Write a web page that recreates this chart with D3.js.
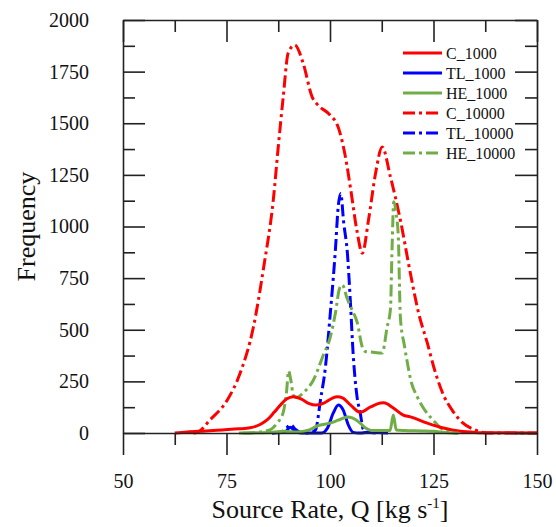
<!DOCTYPE html>
<html>
<head>
<meta charset="utf-8">
<script src="https://cdn.jsdelivr.net/npm/d3@7"></script>
<style>
  body { margin: 0; background: #fff; }
  svg, text { font-family: "Liberation Serif", "Times New Roman", serif; fill: #111; }
</style>
</head>
<body>
<div id="chart"></div>
<script>
// values, [Q, frequency]
const c1000 = [[62.5,0],[65.5,5],[70,10],[74,15],[78,20],[80.7,25],[83,40],[84.8,63],[86.5,100],[88,135],[89.5,165],[91.2,176],[93,165],[95,142],[96.5,135],[98.5,145],[100.5,168],[101.8,175],[103,170],[105,135],[107.3,100],[109.8,126],[112.2,145],[113,146],[115.3,121],[117.7,87],[119.4,78],[123.5,48],[127.4,24],[131.5,8],[135,3],[140,1],[150,0]];
const tl1000 = [[86,0],[89,3],[90.4,28],[91.5,10],[93,0],[98,0],[99.4,24],[100.8,97],[102,136],[103.2,111],[104.4,40],[105.6,3],[107,0],[110,5],[112,3],[114,0]];
const he1000 = [[78,0],[85,3],[89,8],[92,5],[95,15],[97,35],[100,48],[102,62],[104.2,78],[105.4,73],[107.3,48],[108.5,25],[110,12],[114.5,12],[115.3,87],[116,15],[118,12],[122,10],[125,8],[128,3],[131,0]];
const c10000 = [[67,0],[68,3],[71,63],[75.2,160],[78.3,290],[81.5,513],[84,805],[86.3,1128],[87.5,1385],[88.7,1627],[89.9,1840],[91.5,1879],[93.5,1792],[95.7,1627],[97,1590],[100,1540],[102,1480],[103.7,1340],[105,1180],[106.5,980],[107.8,871],[109.3,1031],[111,1257],[112.6,1385],[114.6,1240],[117,1031],[119.4,775],[121.4,581],[123.5,436],[125.5,290],[127.5,180],[129.5,111],[132,50],[135,15],[138,0],[150,0]];
const tl10000 = [[86,0],[88,3],[89.5,25],[90.5,40],[91.5,20],[93,3],[95,0],[96.5,15],[97.7,160],[98.9,320],[100,562],[101.3,886],[102,1100],[102.6,1160],[103.3,1020],[104.2,871],[104.9,644],[105.6,380],[106.5,180],[107.3,97],[108,20],[109,3],[111,0]];
const he10000 = [[79,0],[82,3],[85.5,15],[87.3,50],[88.7,100],[89.5,200],[90,300],[90.5,260],[91.2,180],[92,172],[93.5,194],[96,257],[98.4,378],[100,460],[101.3,580],[102.3,700],[103,717],[104,660],[105,610],[106.6,533],[107.8,417],[108.5,395],[110,392],[112.6,387],[113.8,513],[114.6,600],[115,900],[115.4,1120],[116,1060],[116.5,950],[117,560],[118,420],[118.7,339],[119.5,257],[121.1,174],[122.6,120],[125,60],[126.7,25],[129,3],[131,0]];

const seriesNames = ["C_1000", "TL_1000", "HE_1000", "C_10000", "TL_10000", "HE_10000"];
const seriesData = [c1000, tl1000, he1000, c10000, tl10000, he10000];
const seriesColors = ["#ff0000", "#0000ff", "#70ad47", "#ff0000", "#0000ff", "#70ad47"];
const seriesDashed = [false, false, false, true, true, true];

const xTicks = [50, 75, 100, 125, 150];
const xMinor = [62.5, 87.5, 112.5, 137.5];
const yTicks = [0, 250, 500, 750, 1000, 1250, 1500, 1750, 2000];
const yMinor = [125, 375, 625, 875, 1125, 1375, 1625, 1875];

const width = 556, height = 527;
const margin = {top: 20, right: 19, bottom: 94, left: 123};

const svg = d3.select("#chart").append("svg")
  .attr("width", width)
  .attr("height", height);

const x = d3.scaleLinear().domain([50, 150]).range([margin.left, width - margin.right]);
const y = d3.scaleLinear().domain([0, 2000]).range([height - margin.bottom, margin.top]);

const line = d3.line()
  .x(d => x(d[0]))
  .y(d => y(d[1]))
  .curve(d3.curveMonotoneX);

// curves, dash-dot first so the solid ones sit on top
const order = [3, 4, 5, 0, 1, 2];
order.forEach(i => {
  svg.append("path")
    .datum(seriesData[i])
    .attr("fill", "none")
    .attr("stroke", seriesColors[i])
    .attr("stroke-width", 3)
    .attr("stroke-linejoin", "round")
    .attr("stroke-dasharray", seriesDashed[i] ? "12,4,3,4" : null)
    .attr("d", line);
});

function styleAxis(g) {
  g.attr("font-family", "Liberation Serif").attr("font-size", 20);
  g.selectAll("path.domain").attr("stroke", "#222").attr("stroke-width", 1.6);
  g.selectAll(".tick line").attr("stroke", "#222").attr("stroke-width", 1.6);
  g.selectAll("text").attr("fill", "#111");
}

const bottom = height - margin.bottom, right = width - margin.right;
const fmt = d3.format("d");

// bottom axis, ticks pointing out
svg.append("g").attr("transform", `translate(0,${bottom})`)
  .call(d3.axisBottom(x).tickValues(xMinor).tickSize(12).tickFormat(""))
  .call(g => g.select(".domain").remove())
  .call(styleAxis);
svg.append("g").attr("transform", `translate(0,${bottom})`)
  .call(d3.axisBottom(x).tickValues(xTicks).tickSize(22).tickSizeOuter(0).tickPadding(19).tickFormat(fmt))
  .call(styleAxis);

// top axis, ticks pointing in
svg.append("g").attr("transform", `translate(0,${margin.top})`)
  .call(d3.axisTop(x).tickValues(xMinor).tickSize(-12).tickFormat(""))
  .call(g => g.select(".domain").remove())
  .call(styleAxis);
svg.append("g").attr("transform", `translate(0,${margin.top})`)
  .call(d3.axisTop(x).tickValues(xTicks).tickSize(-22).tickSizeOuter(0).tickFormat(""))
  .call(styleAxis);

// left axis
svg.append("g").attr("transform", `translate(${margin.left},0)`)
  .call(d3.axisLeft(y).tickValues(yMinor).tickSize(-12).tickFormat(""))
  .call(g => g.select(".domain").remove())
  .call(styleAxis);
svg.append("g").attr("transform", `translate(${margin.left},0)`)
  .call(d3.axisLeft(y).tickValues(yTicks).tickSize(-22).tickSizeOuter(0).tickPadding(34).tickFormat(fmt))
  .call(styleAxis);

// right axis
svg.append("g").attr("transform", `translate(${right},0)`)
  .call(d3.axisRight(y).tickValues(yMinor).tickSize(-12).tickFormat(""))
  .call(g => g.select(".domain").remove())
  .call(styleAxis);
svg.append("g").attr("transform", `translate(${right},0)`)
  .call(d3.axisRight(y).tickValues(yTicks).tickSize(-22).tickSizeOuter(0).tickFormat(""))
  .call(styleAxis);

// axis titles
const xt = svg.append("text")
  .attr("x", (margin.left + right) / 2)
  .attr("y", 518)
  .attr("text-anchor", "middle")
  .attr("font-size", 26);
xt.append("tspan").text("Source Rate, Q [kg s");
xt.append("tspan").attr("dy", -10).attr("font-size", 15).text("-1");
xt.append("tspan").attr("dy", 10).text("]");

svg.append("text")
  .attr("transform", `translate(35,${(margin.top + bottom) / 2}) rotate(-90)`)
  .attr("text-anchor", "middle")
  .attr("font-size", 26)
  .text("Frequency");

// legend
const legend = svg.append("g").attr("transform", "translate(403,53)");
seriesNames.forEach((name, i) => {
  const row = legend.append("g").attr("transform", `translate(0,${i * 20})`);
  row.append("line")
    .attr("x1", 0).attr("x2", 39)
    .attr("stroke", seriesColors[i])
    .attr("stroke-width", 3)
    .attr("stroke-dasharray", seriesDashed[i] ? "12,4,3,4" : null);
  row.append("text")
    .attr("x", 43)
    .attr("dy", "0.35em")
    .attr("font-size", 16)
    .text(name);
});
</script>
</body>
</html>
